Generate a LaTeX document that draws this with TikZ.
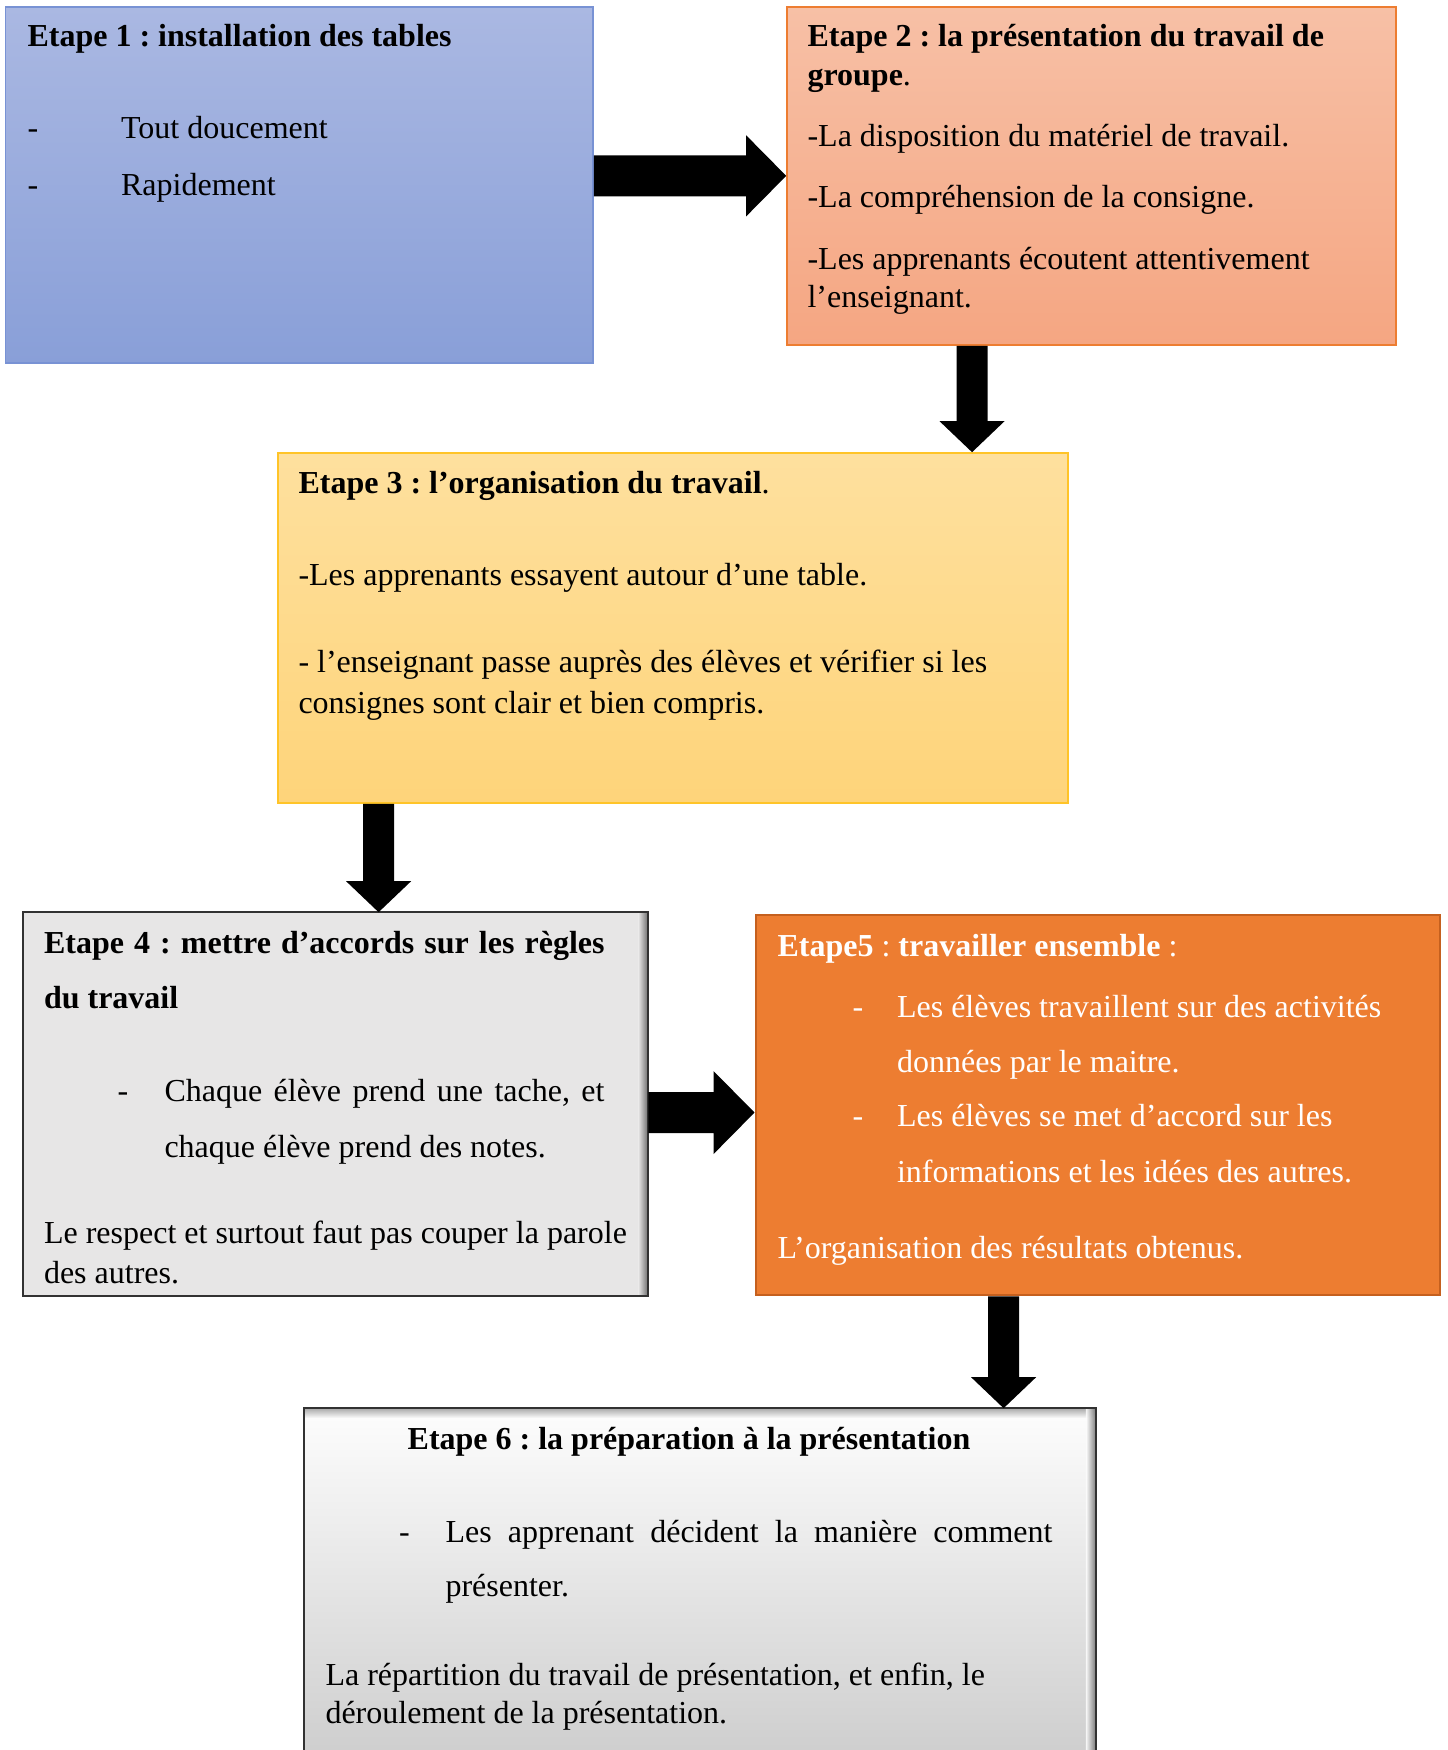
\documentclass[tikz,border=0pt]{standalone}
\usepackage{fontspec}
\setmainfont{Liberation Serif}
\frenchspacing
\usetikzlibrary{fit,calc}
\definecolor{bOneTop}{RGB}{170,184,226}
\definecolor{bOneBot}{RGB}{137,159,216}
\definecolor{bOneLine}{RGB}{120,146,212}
\definecolor{bTwoTop}{RGB}{247,192,166}
\definecolor{bTwoBot}{RGB}{245,166,130}
\definecolor{bTwoLine}{RGB}{237,125,49}
\definecolor{bThreeTop}{RGB}{254,224,158}
\definecolor{bThreeBot}{RGB}{254,212,122}
\definecolor{bThreeLine}{RGB}{255,196,40}
\definecolor{bFourFill}{RGB}{231,230,230}
\definecolor{darkLine}{RGB}{50,50,50}
\definecolor{bFiveFill}{RGB}{237,125,49}
\definecolor{bFiveLine}{RGB}{197,96,30}
\definecolor{bSixTop}{RGB}{253,253,253}
\definecolor{bSixBot}{RGB}{204,204,204}
\definecolor{shadeDark}{RGB}{105,105,105}
\newcommand{\myharrow}[5]{\fill[black] ($(#1)+(0,-#3)$) -- ($(#2)+(-#5,-#3)$) -- ($(#2)+(-#5,-#4)$) -- (#2) -- ($(#2)+(-#5,#4)$) -- ($(#2)+(-#5,#3)$) -- ($(#1)+(0,#3)$) -- cycle;}
\newcommand{\myvarrow}[5]{\fill[black] ($(#1)+(-#3,0)$) -- ($(#2)+(-#3,-#5)$) -- ($(#2)+(-#4,-#5)$) -- (#2) -- ($(#2)+(#4,-#5)$) -- ($(#2)+(#3,-#5)$) -- ($(#1)+(#3,0)$) -- cycle;}
\tikzset{
  boxbase/.style={inner sep=0pt, line width=0.6pt},
  txt/.style={anchor=base west, inner sep=0pt, font=\fontsize{12}{14}\selectfont},
  wtxt/.style={txt, text=white},
}
\begin{document}
\begin{tikzpicture}[x=0.375pt, y=-0.375pt]
\useasboundingbox (0,0) rectangle (1448,1750);
\clip (0,0) rectangle (1448,1750);
% boxes
\node[boxbase, fit={(5.6,6.7) (593,363)}, draw=bOneLine, top color=bOneTop, bottom color=bOneBot] (b1) {};
\node[boxbase, fit={(787,6.7) (1396,345)}, draw=bTwoLine, top color=bTwoTop, bottom color=bTwoBot] (b2) {};
\node[boxbase, fit={(278,453) (1068,803)}, draw=bThreeLine, top color=bThreeTop, bottom color=bThreeBot] (b3) {};
\node[boxbase, fit={(23.4,913) (647.5,1295)}, fill=bFourFill] (b4) {};
\shade[left color=bFourFill, right color=shadeDark] ($(b4.north east)+(-10,0)$) rectangle (b4.south east);
\draw[darkLine, line width=0.75pt] (b4.north west) rectangle (b4.south east);
\node[boxbase, fit={(756,915) (1440,1295)}, draw=bFiveLine, line width=1.1pt, fill=bFiveFill] (b5) {};
\node[boxbase, fit={(305,1409) (1095,1770)}, top color=bSixTop, bottom color=bSixBot] (b6) {};
\shade[top color=shadeDark!80, bottom color=bSixTop!0, opacity=0.7] (b6.north west) rectangle ($(b6.north east)+(0,10)$);
\shade[left color=white, right color=shadeDark, opacity=0.85] ($(b6.north east)+(-10,0)$) rectangle (b6.south east);
\draw[darkLine, line width=0.75pt] (b6.north west) rectangle (b6.south east);
% arrows
\coordinate (s12) at (b1.east |- b2.west);
\myharrow{s12}{b2.west}{20.5}{40.5}{40}
\coordinate (s23) at ([xshift=-44.8pt]b2.south);
\coordinate (t23) at (s23 |- b3.north);
\myvarrow{s23}{t23}{15.5}{32.5}{31}
\coordinate (s34) at ([xshift=-110.4pt]b3.south);
\coordinate (t34) at (s34 |- b4.north);
\myvarrow{s34}{t34}{15.5}{32.5}{31}
\coordinate (s45) at ([yshift=-3.2pt]b4.east);
\coordinate (t45) at (s45 -| b5.west);
\myharrow{s45}{t45}{20.5}{41.5}{41}
\coordinate (s56) at ([xshift=-35.4pt]b5.south);
\coordinate (t56) at (s56 |- b6.north);
\myvarrow{s56}{t56}{15.5}{32.5}{31}
% box 1 text
\node[txt] (t1a) at (27,46.5) {\bfseries Etape 1 : installation des tables};
\node[txt] (t1b) at (27,138) {-};
\node[txt] (t1c) at (120.6,138) {Tout doucement};
\node[txt] (t1d) at (27,195) {-};
\node[txt] (t1e) at (120.6,195) {Rapidement};
% box 2 text
\node[txt] (t2a) at (807,46) {\bfseries Etape 2 : la présentation du travail de};
\node[txt] (t2b) at (807,85) {{\bfseries groupe}.};
\node[txt] (t2c) at (807,146) {-La disposition du matériel de travail.};
\node[txt] (t2d) at (807,207) {-La compréhension de la consigne.};
\node[txt] (t2e) at (807,269) {-Les apprenants écoutent attentivement};
\node[txt] (t2f) at (807,307) {l’enseignant.};
% box 3 text
\node[txt] (t3a) at (298,493) {{\bfseries Etape 3 : l’organisation du travail}.};
\node[txt] (t3b) at (298,585) {-Les apprenants essayent autour d’une table.};
\node[txt] (t3c) at (298,672) {- l’enseignant passe auprès des élèves et vérifier si les};
\node[txt] (t3d) at (298,713) {consignes sont clair et bien compris.};
% box 4 text
\node[txt] (t4a) at (43.5,953) {\makebox[210.2pt][s]{\bfseries Etape 4 : mettre d’accords sur les règles}};
\node[txt] (t4b) at (43.5,1008) {\bfseries du travail};
\node[txt] (t4c) at (117,1101) {-};
\node[txt] (t4d) at (164,1101) {\makebox[165pt][s]{Chaque élève prend une tache, et}};
\node[txt] (t4e) at (164,1157) {chaque élève prend des notes.};
\node[txt] (t4f) at (43.5,1243) {Le respect et surtout faut pas couper la parole};
\node[txt] (t4g) at (43.5,1283) {des autres.};
% box 5 text
\node[wtxt] (t5a) at (777,956) {{\bfseries Etape5} : {\bfseries travailler ensemble} :};
\node[wtxt] (t5b) at (852,1017) {-};
\node[wtxt] (t5c) at (896.5,1017) {Les élèves travaillent sur des activités};
\node[wtxt] (t5d) at (896.5,1072) {données par le maitre.};
\node[wtxt] (t5e) at (852,1126) {-};
\node[wtxt] (t5f) at (896.5,1126) {Les élèves se met d’accord sur les};
\node[wtxt] (t5g) at (896.5,1182) {informations et les idées des autres.};
\node[wtxt] (t5h) at (777,1258) {L’organisation des résultats obtenus.};
% box 6 text
\node[txt, anchor=base] (t6a) at (689,1449) {\bfseries Etape 6 : la préparation à la présentation};
\node[txt] (t6b) at (398.6,1542) {-};
\node[txt] (t6c) at (445,1542) {\makebox[227.6pt][s]{Les apprenant décident la manière comment}};
\node[txt] (t6d) at (445,1596) {présenter.};
\node[txt] (t6e) at (325,1685) {La répartition du travail de présentation, et enfin, le};
\node[txt] (t6f) at (325,1723) {déroulement de la présentation.};
\end{tikzpicture}
\end{document}
